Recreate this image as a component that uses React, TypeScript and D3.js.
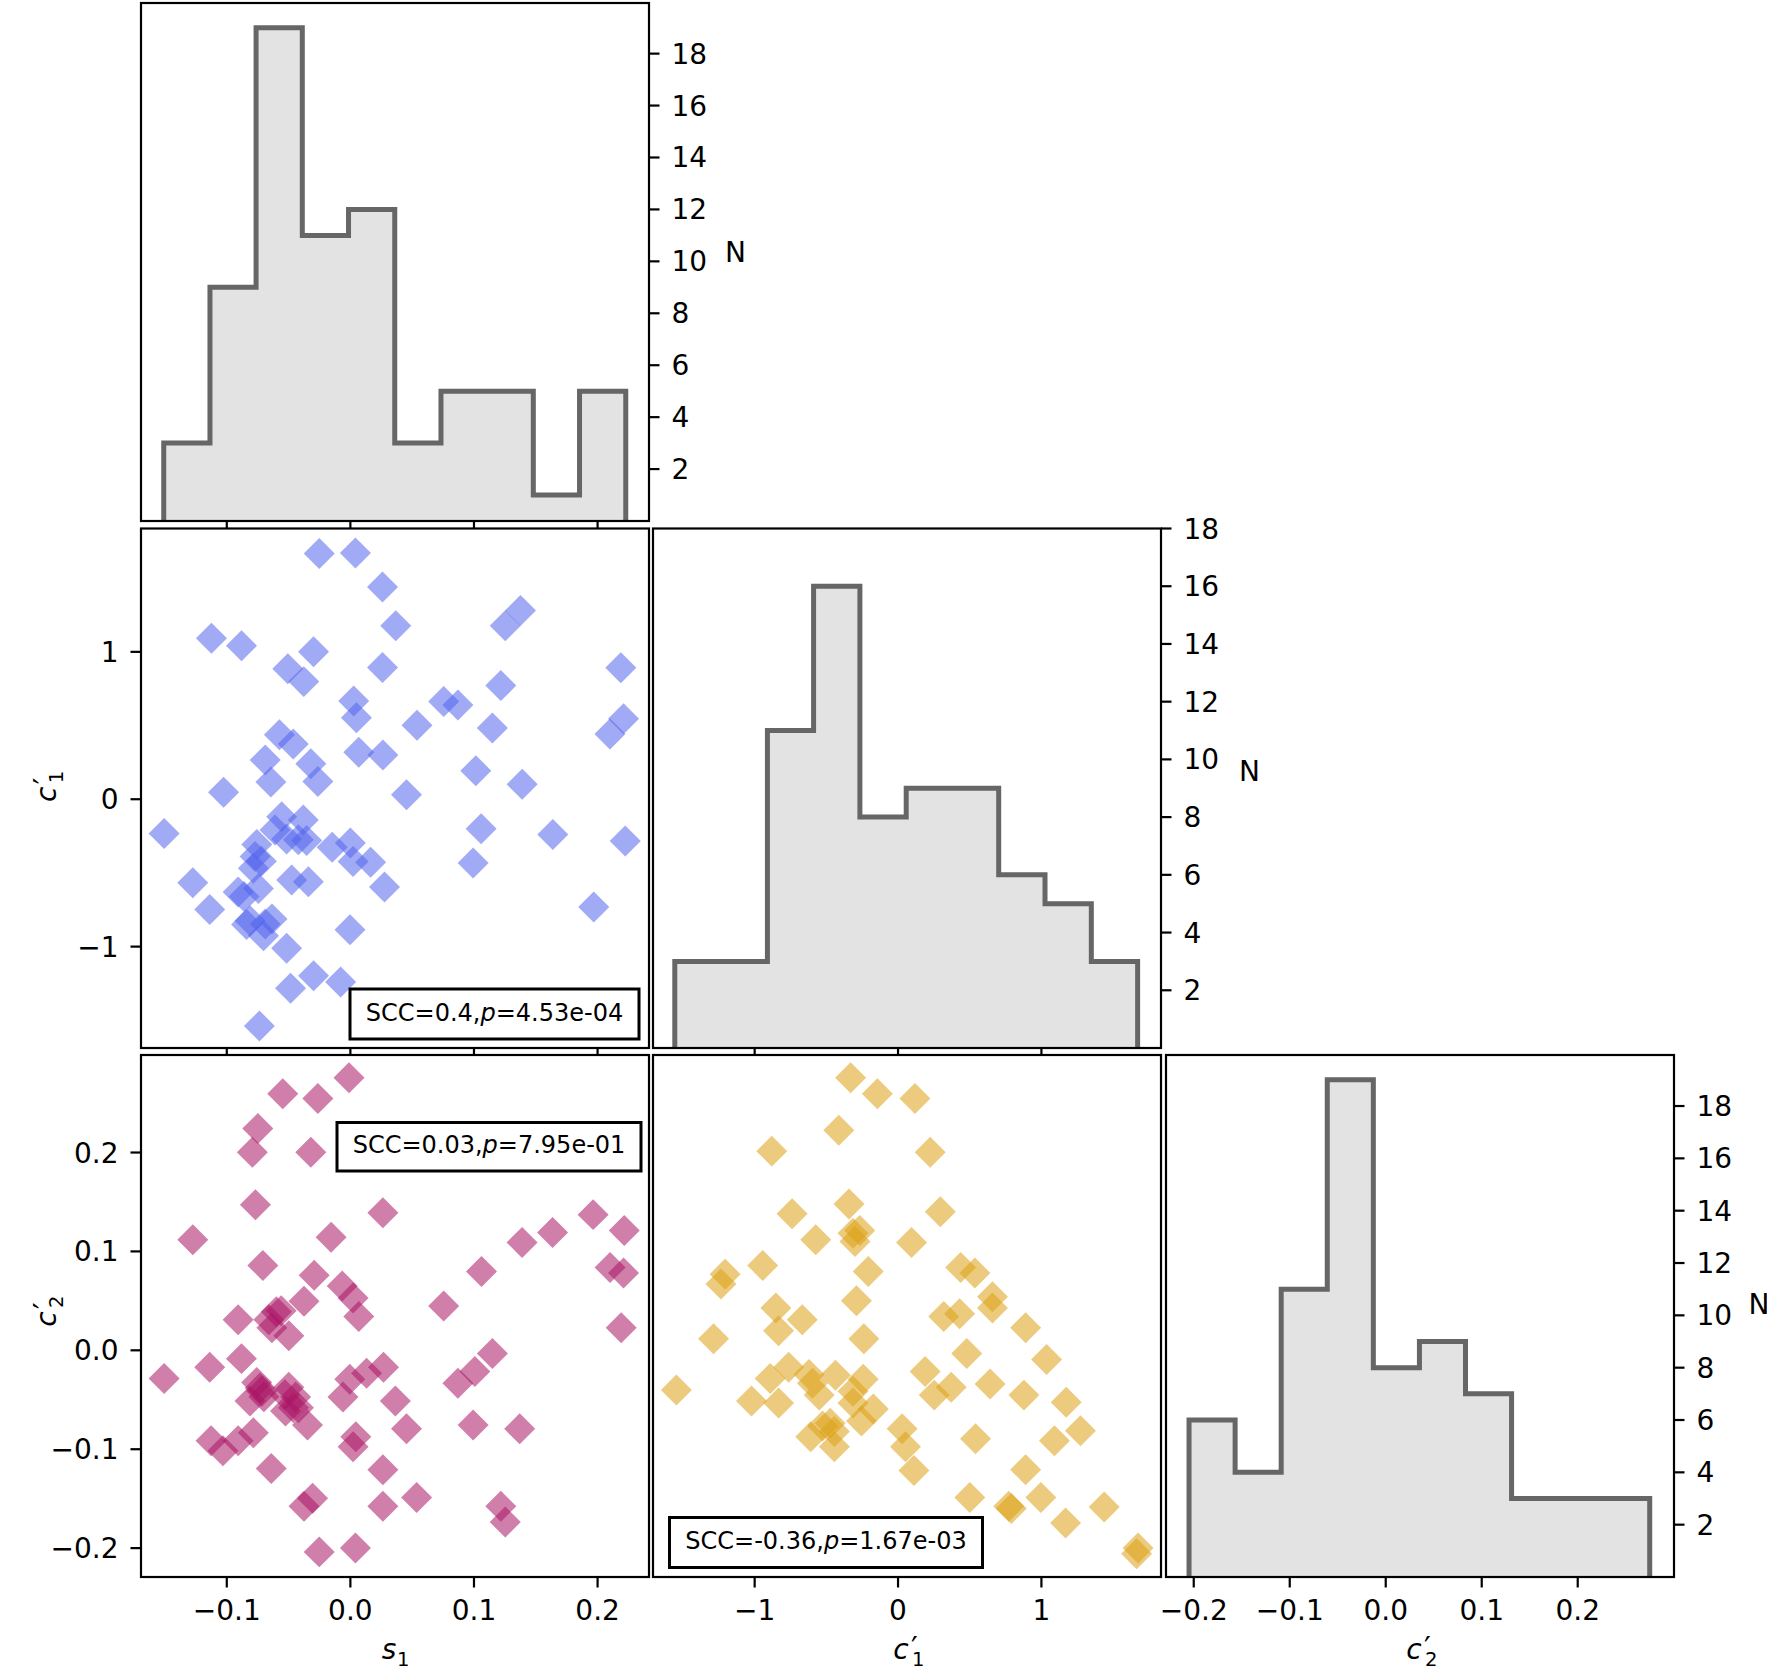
import React from 'react';
import * as d3 from 'd3';

// panel s1 vs c1'
const s1A = [-0.0252, 0.0041, 0.026, 0.0367, 0.1376, 0.1253, -0.1124, -0.0881, -0.0298, -0.0506,
  -0.0377, 0.026, 0.2188, 0.1217, 0.0027, 0.0049, 0.0755, 0.087, 0.0539, 0.1149,
  0.221, 0.21, -0.0574, -0.0462, 0.0068, 0.0263, -0.0689, -0.032, -0.0643, -0.0263,
  -0.1026, 0.0454, 0.1015, 0.139, -0.1507, 0.1058, 0.1638, 0.2224, 0.0993, 0.1969,
  -0.1275, -0.1138, -0.0003, 0.0276, -0.0484, -0.0298, -0.0079, -0.0736, -0.0516, -0.0147,
  0.0, 0.0022, 0.0164, -0.0475, -0.034, -0.0556, -0.0381, -0.061, -0.0516, -0.0421,
  -0.0354, -0.0757, -0.0771, -0.0785, -0.0908, -0.0744, -0.0812, -0.0689, -0.0634, -0.0703,
  -0.086, -0.084, -0.072];
const c1A = [1.668, 1.671, 1.44, 1.177, 1.28, 1.177, 1.092, 1.041, 1.0, 0.885,
  0.798, 0.894, 0.892, 0.771, 0.667, 0.553, 0.663, 0.64, 0.502, 0.484,
  0.546, 0.443, 0.438, 0.375, 0.319, 0.3, 0.266, 0.24, 0.117, 0.12,
  0.048, 0.03, 0.193, 0.101, -0.232, -0.2, -0.239, -0.284, -0.433, -0.732,
  -0.567, -0.748, -0.885, -0.595, -1.282, -1.197, -1.24, -1.539, -1.011, -0.326,
  -0.297, -0.422, -0.427, -0.548, -0.56, -0.119, -0.141, -0.209, -0.27, -0.275,
  -0.28, -0.307, -0.388, -0.468, -0.629, -0.606, -0.824, -0.847, -0.812, -0.927,
  -0.66, -0.85, -0.42];

// panel s1 vs c2'
const s1B = [-0.0011, -0.0547, -0.0263, -0.0749, -0.0793, -0.032, -0.0768, 0.0263, -0.1275, -0.0156,
  0.1389, 0.1636, 0.1964, 0.2216, -0.0708, 0.1061, 0.2101, 0.221, -0.0293, -0.0066,
  -0.0375, 0.0022, 0.0068, 0.0755, 0.2191, -0.0908, -0.0599, -0.0635, -0.0498, 0.1149,
  0.1007, 0.087, -0.1507, -0.1138, -0.0881, -0.0758, -0.0717, -0.0498, -0.0443, -0.0812,
  -0.0525, -0.0347, -0.0005, 0.0131, 0.0268, -0.006, 0.0364, 0.0454, 0.0993, 0.137,
  0.0044, 0.0022, -0.1127, -0.1031, -0.0908, -0.0785, -0.064, 0.0263, 0.0536, -0.0375,
  -0.0306, 0.0263, 0.1217, 0.1253, -0.0252, 0.0041, -0.073, -0.07, -0.053, -0.046,
  -0.042, -0.066, -0.056];
const c2B = [0.2756, 0.2595, 0.2547, 0.2242, 0.2002, 0.2002, 0.1472, 0.1392, 0.1119, 0.1143,
  0.1091, 0.1191, 0.1372, 0.1211, 0.0858, 0.0798, 0.0838, 0.0782, 0.0758, 0.065,
  0.0497, 0.053, 0.0341, 0.0449, 0.0229, 0.0309, 0.0389, 0.0229, 0.0148, -0.0032,
  -0.0213, -0.0333, -0.0285, -0.0172, -0.0084, -0.0325, -0.0413, -0.0373, -0.0473, -0.0513,
  -0.0614, -0.0754, -0.0293, -0.0233, -0.0172, -0.0473, -0.0513, -0.0794, -0.0754, -0.0794,
  -0.0874, -0.0975, -0.0915, -0.1015, -0.0915, -0.0834, -0.1195, -0.1207, -0.1488, -0.1576,
  -0.1496, -0.1576, -0.1576, -0.1737, -0.2038, -0.1998, -0.038, -0.047, -0.045, -0.058,
  -0.058, 0.031, 0.04];

// panel c1' vs c2'
const c1C = [-0.3305, -0.144, 0.118, -0.413, -0.8805, 0.2243, -0.342, -0.739, 0.295, -0.5737,
  -0.314, -0.267, -0.3, 0.0944, -0.944, -0.2077, -1.206, -1.235, 0.4367, 0.536,
  -0.29, 0.6586, 0.6586, 0.3187, 0.4297, -0.852, -0.668, -0.8333, -1.2866, -0.2384,
  0.89, 0.4792, 1.036, -1.546, 0.1889, 0.2526, 0.3706, 0.642, 0.878, 1.173,
  1.272, 1.091, 0.5406, 0.0283, 0.0519, 0.111, 0.89, 0.5005, 0.772, 0.79,
  0.996, 1.1686, 1.4377, 1.674, 1.664, -1.022, -0.892, -0.833, -0.7625, -0.621,
  -0.597, -0.55, -0.4367, -0.314, -0.243, -0.314, -0.1723, -0.255, -0.609, -0.5264,
  -0.4438, -0.4438, -0.473];
const c2C = [0.2756, 0.2595, 0.2547, 0.2226, 0.2014, 0.2002, 0.148, 0.138, 0.14, 0.1119,
  0.1183, 0.1211, 0.11, 0.1091, 0.0858, 0.0798, 0.077, 0.067, 0.0838, 0.0782,
  0.0501, 0.0542, 0.0429, 0.0341, 0.0369, 0.0429, 0.0309, 0.0197, 0.0116, 0.0116,
  0.0229, -0.0032, -0.0092, -0.0401, -0.0213, -0.0453, -0.0373, -0.0341, -0.0453, -0.0525,
  -0.0814, -0.0915, -0.0894, -0.0794, -0.0975, -0.1215, -0.1207, -0.1488, -0.1576, -0.16,
  -0.1488, -0.1745, -0.1584, -0.1998, -0.2058, -0.0513, -0.0285, -0.0533, -0.0172, -0.0245,
  -0.0333, -0.0453, -0.0253, -0.0413, -0.0293, -0.0533, -0.0594, -0.0714, -0.0874, -0.0766,
  -0.0822, -0.0975, -0.0738];

// histograms
const s1Edges = [-0.151, -0.1136, -0.0763, -0.0389, -0.0015, 0.0359, 0.0733, 0.1107, 0.148, 0.1854, 0.2228];
const s1Counts = [3, 9, 19, 11, 12, 3, 5, 5, 1, 5];
const c1Edges = [-1.557, -1.234, -0.911, -0.589, -0.266, 0.057, 0.38, 0.702, 1.025, 1.348, 1.671];
const c1Counts = [3, 3, 11, 16, 8, 9, 9, 6, 5, 3];
const c2Edges = [-0.2049, -0.1569, -0.1089, -0.0609, -0.0129, 0.0351, 0.0831, 0.1311, 0.1791, 0.2271, 0.275];
const c2Counts = [6, 4, 11, 19, 8, 9, 7, 3, 3, 3];

// ticks
const s1Ticks = [-0.1, 0, 0.1, 0.2];
const c1Ticks = [-1, 0, 1];
const c2Ticks = [-0.2, -0.1, 0, 0.1, 0.2];
const nTicks = [2, 4, 6, 8, 10, 12, 14, 16, 18];

const W = 1767;
const H = 1672;
const FONT = 'DejaVu Sans, sans-serif';
const TICK = 10.5;
const FS = 28;

const colX = [[141, 649], [653, 1161], [1166, 1674]];
const rowY = [[3, 521], [528.5, 1048], [1055, 1577]];

const xS1 = d3.scaleLinear().domain([-0.1694, 0.2416]).range(colX[0]);
const xC1 = d3.scaleLinear().domain([-1.709, 1.834]).range(colX[1]);
const xC2 = d3.scaleLinear().domain([-0.2289, 0.3003]).range(colX[2]);
const yC1 = d3.scaleLinear().domain([-1.688, 1.837]).range([rowY[1][1], rowY[1][0]]);
const yC2 = d3.scaleLinear().domain([-0.2292, 0.2986]).range([rowY[2][1], rowY[2][0]]);
const yN1 = d3.scaleLinear().domain([0, 19.95]).range([rowY[0][1], rowY[0][0]]);
const yN2 = d3.scaleLinear().domain([0, 18]).range([rowY[1][1], rowY[1][0]]);
const yN3 = d3.scaleLinear().domain([0, 19.95]).range([rowY[2][1], rowY[2][0]]);

const fmt1 = d3.format('.1f');
const fmtInt = d3.format('d');

const diamond = d3.symbol().type(d3.symbolSquare).size(480)();

function histPoints(edges, counts) {
  const pts = [[edges[0], 0]];
  counts.forEach((c, i) => {
    pts.push([edges[i], c]);
    pts.push([edges[i + 1], c]);
  });
  pts.push([edges[edges.length - 1], 0]);
  return pts;
}

function Panel({ id, col, row, children }) {
  const [x0, x1] = colX[col];
  const [y0, y1] = rowY[row];
  return (
    <g>
      <defs>
        <clipPath id={id}>
          <rect x={x0} y={y0} width={x1 - x0} height={y1 - y0} />
        </clipPath>
      </defs>
      <rect x={x0} y={y0} width={x1 - x0} height={y1 - y0} fill="#fff" />
      {children}
      <rect x={x0} y={y0} width={x1 - x0} height={y1 - y0} fill="none" stroke="#000" strokeWidth={2.2} />
    </g>
  );
}

function BottomTicks({ scale, ticks, row, labels, fmt }) {
  const y1 = rowY[row][1];
  return (
    <g>
      {ticks.map(t => (
        <g key={t}>
          <line x1={scale(t)} x2={scale(t)} y1={y1} y2={y1 + TICK} stroke="#000" strokeWidth={2.2} />
          {labels && (
            <text x={scale(t)} y={y1 + 43} textAnchor="middle" fontSize={FS} fontFamily={FONT}>{fmt(t)}</text>
          )}
        </g>
      ))}
    </g>
  );
}

function LeftTicks({ scale, ticks, col, fmt }) {
  const x0 = colX[col][0];
  return (
    <g>
      {ticks.map(t => (
        <g key={t}>
          <line x1={x0 - TICK} x2={x0} y1={scale(t)} y2={scale(t)} stroke="#000" strokeWidth={2.2} />
          <text x={x0 - TICK - 12} y={scale(t) + 10} textAnchor="end" fontSize={FS} fontFamily={FONT}>{fmt(t)}</text>
        </g>
      ))}
    </g>
  );
}

function RightTicks({ scale, ticks, col }) {
  const x1 = colX[col][1];
  return (
    <g>
      {ticks.map(t => (
        <g key={t}>
          <line x1={x1} x2={x1 + TICK} y1={scale(t)} y2={scale(t)} stroke="#000" strokeWidth={2.2} />
          <text x={x1 + TICK + 12} y={scale(t) + 10} textAnchor="start" fontSize={FS} fontFamily={FONT}>{fmtInt(t)}</text>
        </g>
      ))}
    </g>
  );
}

function Hist({ id, xScale, yScale, edges, counts }) {
  const line = d3.line().x(d => xScale(d[0])).y(d => yScale(d[1]));
  const pts = histPoints(edges, counts);
  return (
    <g clipPath={`url(#${id})`}>
      <path d={line(pts) + 'Z'} fill="#e3e3e3" stroke="none" />
      <path d={line(pts)} fill="none" stroke="#666" strokeWidth={5} strokeLinejoin="miter" />
    </g>
  );
}

function Scatter({ id, xs, ys, xScale, yScale, color, opacity }) {
  return (
    <g clipPath={`url(#${id})`}>
      {xs.map((x, i) => (
        <path key={i} d={diamond} transform={`translate(${xScale(x)},${yScale(ys[i])}) rotate(45)`}
          fill={color} fillOpacity={opacity} />
      ))}
    </g>
  );
}

function StatBox({ x, y, w, h, scc, p }) {
  return (
    <g>
      <rect x={x} y={y} width={w} height={h} fill="#fff" stroke="#000" strokeWidth={3} />
      <text x={x + w / 2} y={y + h / 2 + 6.5} textAnchor="middle" fontSize={24} fontFamily={FONT}>
        {`SCC=${scc},`}<tspan fontStyle="italic">p</tspan>{`=${p}`}
      </text>
    </g>
  );
}

// italic symbol with subscript, and a prime stacked above the subscript
function MathLabel({ base, sub, prime }) {
  return (
    <g>
      <text x={-6} y={0} textAnchor="middle" fontSize={FS} fontFamily={FONT} fontStyle="italic">{base}</text>
      {prime && (
        <text x={4} y={-1} fontSize={30} fontFamily={FONT}>′</text>
      )}
      <text x={prime ? 5 : 2} y={7} fontSize={19.6} fontFamily={FONT}>{sub}</text>
    </g>
  );
}

export default function App() {
  const cx = c => (colX[c][0] + colX[c][1]) / 2;
  const cy = r => (rowY[r][0] + rowY[r][1]) / 2;
  return (
    <svg width={W} height={H} viewBox={`0 0 ${W} ${H}`}
      style={{ position: 'absolute', left: 0, top: 0, background: '#fff' }}>
      <rect x={0} y={0} width={W} height={H} fill="#fff" />

      {/* top: s1 histogram */}
      <Panel id="p00" col={0} row={0}>
        <Hist id="p00" xScale={xS1} yScale={yN1} edges={s1Edges} counts={s1Counts} />
      </Panel>
      <BottomTicks scale={xS1} ticks={s1Ticks} row={0} labels={false} />
      <RightTicks scale={yN1} ticks={nTicks} col={0} />
      <text x={725} y={262} fontSize={FS} fontFamily={FONT}>N</text>

      {/* s1 vs c1' */}
      <Panel id="p10" col={0} row={1}>
        <Scatter id="p10" xs={s1A} ys={c1A} xScale={xS1} yScale={yC1} color="rgb(82,100,237)" opacity={0.55} />
        <StatBox x={350} y={989} w={289} h={50} scc="0.4" p="4.53e-04" />
      </Panel>
      <BottomTicks scale={xS1} ticks={s1Ticks} row={1} labels={false} />
      <LeftTicks scale={yC1} ticks={c1Ticks} col={0} fmt={fmtInt} />

      {/* c1' histogram */}
      <Panel id="p11" col={1} row={1}>
        <Hist id="p11" xScale={xC1} yScale={yN2} edges={c1Edges} counts={c1Counts} />
      </Panel>
      <BottomTicks scale={xC1} ticks={c1Ticks} row={1} labels={false} />
      <RightTicks scale={yN2} ticks={nTicks} col={1} />
      <text x={1239} y={781} fontSize={FS} fontFamily={FONT}>N</text>

      {/* s1 vs c2' */}
      <Panel id="p20" col={0} row={2}>
        <Scatter id="p20" xs={s1B} ys={c2B} xScale={xS1} yScale={yC2} color="rgb(170,20,100)" opacity={0.55} />
        <StatBox x={337} y={1122.5} w={304} h={48.5} scc="0.03" p="7.95e-01" />
      </Panel>
      <BottomTicks scale={xS1} ticks={s1Ticks} row={2} labels={true} fmt={fmt1} />
      <LeftTicks scale={yC2} ticks={c2Ticks} col={0} fmt={fmt1} />

      {/* c1' vs c2' */}
      <Panel id="p21" col={1} row={2}>
        <Scatter id="p21" xs={c1C} ys={c2C} xScale={xC1} yScale={yC2} color="rgb(220,160,20)" opacity={0.55} />
        <StatBox x={669.5} y={1517.5} w={313} h={50} scc="-0.36" p="1.67e-03" />
      </Panel>
      <BottomTicks scale={xC1} ticks={c1Ticks} row={2} labels={true} fmt={fmtInt} />

      {/* c2' histogram */}
      <Panel id="p22" col={2} row={2}>
        <Hist id="p22" xScale={xC2} yScale={yN3} edges={c2Edges} counts={c2Counts} />
      </Panel>
      <BottomTicks scale={xC2} ticks={c2Ticks} row={2} labels={true} fmt={fmt1} />
      <RightTicks scale={yN3} ticks={nTicks} col={2} />
      <text x={1748.5} y={1314} fontSize={FS} fontFamily={FONT}>N</text>

      {/* axis labels */}
      <g transform={`translate(${cx(0)},1659)`}><MathLabel base="s" sub="1" /></g>
      <g transform={`translate(${cx(1)},1659)`}><MathLabel base="c" sub="1" prime /></g>
      <g transform={`translate(${cx(2)},1659)`}><MathLabel base="c" sub="2" prime /></g>
      <g transform={`translate(56,${cy(1)}) rotate(-90)`}><MathLabel base="c" sub="1" prime /></g>
      <g transform={`translate(56,${cy(2) - 3}) rotate(-90)`}><MathLabel base="c" sub="2" prime /></g>
    </svg>
  );
}
